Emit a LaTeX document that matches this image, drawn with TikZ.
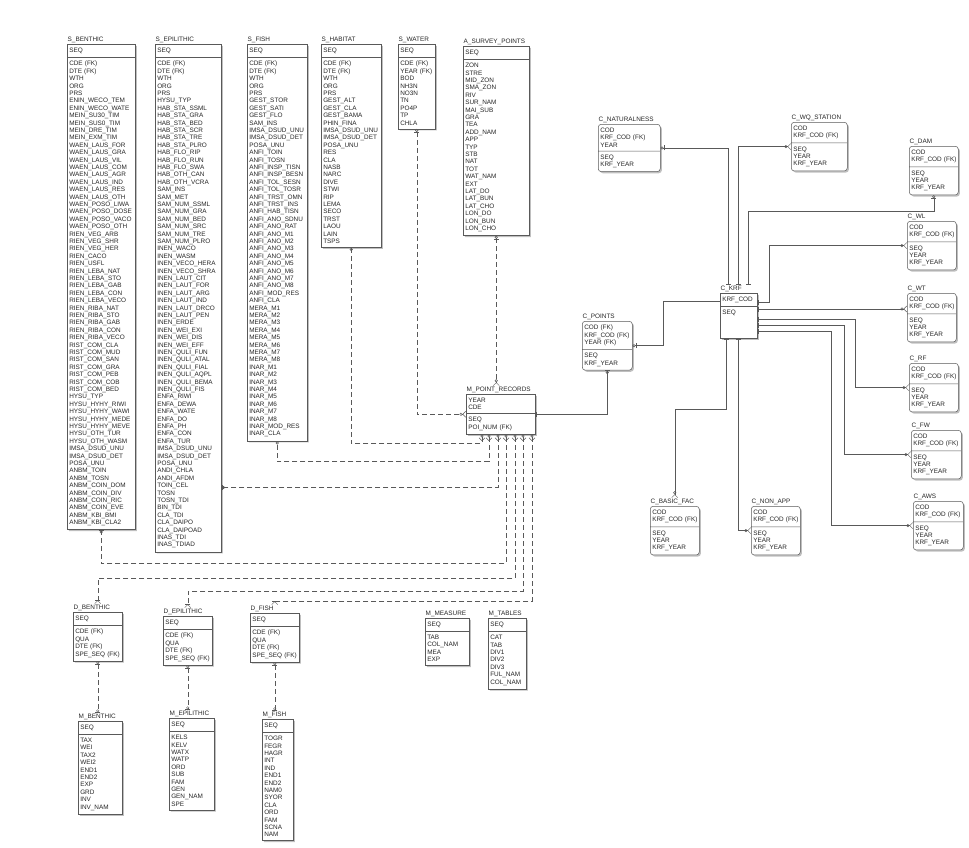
\documentclass[tikz,border=0pt]{standalone}
\usepackage{fontspec}
\setmainfont{Liberation Sans}
\usetikzlibrary{shapes.multipart,shadows,arrows.meta,positioning}

\begin{document}
\begin{tikzpicture}[x=1pt, y=-1pt,
    font=\fontsize{6.4}{7.4}\selectfont,
    every node/.style={text=black!85},
    tbl/.style={rectangle split, rectangle split parts=2, draw=black!65, fill=white,
      line width=0.5pt, anchor=north west, align=left, inner xsep=2pt, inner ysep=3.5pt,
      drop shadow={shadow xshift=1.6pt, shadow yshift=-1.6pt, fill=black!50}},
    rtbl/.style={tbl, rounded corners=3pt},
    ttl/.style={inner sep=0.5pt},
    lnk/.style={draw=black!65, line width=0.5pt},
    rel/.style={lnk, dash pattern=on 5pt off 3pt},
    one/.tip={Bar[width=5pt]},
    zo/.tip={Circle[open,length=3pt] Bar[width=5pt]},
    oz/.tip={Bar[width=5pt] Circle[open,length=3pt]},
    zm/.tip={Circle[open,length=3pt] Straight Barb[reversed,length=3pt,width=6pt]},
    mz/.tip={Straight Barb[reversed,length=3pt,width=6pt] Circle[open,length=3pt]},
    om/.tip={Bar[width=5pt] Straight Barb[reversed,length=3pt,width=6pt]}]
  \useasboundingbox (0,0) rectangle (969,847);

  % survey tables
  \node[tbl, text width=64pt] (sbent) at (67,44) {SEQ
    \nodepart{two}CDE~(FK)\\DTE~(FK)\\WTH\\ORG\\PRS\\ENIN\_WECO\_TEM\\ENIN\_WECO\_WATE\\
    MEIN\_SU30\_TIM\\MEIN\_SUS0\_TIM\\MEIN\_DRE\_TIM\\MEIN\_EXM\_TIM\\WAEN\_LAUS\_FOR\\
    WAEN\_LAUS\_GRA\\WAEN\_LAUS\_VIL\\WAEN\_LAUS\_COM\\WAEN\_LAUS\_AGR\\WAEN\_LAUS\_IND\\
    WAEN\_LAUS\_RES\\WAEN\_LAUS\_OTH\\WAEN\_POSO\_LIWA\\WAEN\_POSO\_DOSE\\WAEN\_POSO\_VACO\\
    WAEN\_POSO\_OTH\\RIEN\_VEG\_ARB\\RIEN\_VEG\_SHR\\RIEN\_VEG\_HER\\RIEN\_CACO\\RIEN\_USFL\\
    RIEN\_LEBA\_NAT\\RIEN\_LEBA\_STO\\RIEN\_LEBA\_GAB\\RIEN\_LEBA\_CON\\RIEN\_LEBA\_VECO\\
    RIEN\_RIBA\_NAT\\RIEN\_RIBA\_STO\\RIEN\_RIBA\_GAB\\RIEN\_RIBA\_CON\\RIEN\_RIBA\_VECO\\
    RIST\_COM\_CLA\\RIST\_COM\_MUD\\RIST\_COM\_SAN\\RIST\_COM\_GRA\\RIST\_COM\_PEB\\
    RIST\_COM\_COB\\RIST\_COM\_BED\\HYSU\_TYP\\HYSU\_HYHY\_RIWI\\HYSU\_HYHY\_WAWI\\
    HYSU\_HYHY\_MEDE\\HYSU\_HYHY\_MEVE\\HYSU\_OTH\_TUR\\HYSU\_OTH\_WASM\\IMSA\_DSUD\_UNU\\
    IMSA\_DSUD\_DET\\POSA\_UNU\\ANBM\_TOIN\\ANBM\_TOSN\\ANBM\_COIN\_DOM\\ANBM\_COIN\_DIV\\
    ANBM\_COIN\_RIC\\ANBM\_COIN\_EVE\\ANBM\_KBI\_BMI\\ANBM\_KBI\_CLA2};
  \node[ttl, above right=1pt and 0pt of sbent.north west] (sbent-t) {S\_BENTHIC};

  \node[tbl, text width=62pt] (sepil) at (155,44) {SEQ
    \nodepart{two}CDE~(FK)\\DTE~(FK)\\WTH\\ORG\\PRS\\HYSU\_TYP\\HAB\_STA\_SSML\\HAB\_STA\_GRA\\
    HAB\_STA\_BED\\HAB\_STA\_SCR\\HAB\_STA\_TRE\\HAB\_STA\_PLRO\\HAB\_FLO\_RIP\\HAB\_FLO\_RUN\\
    HAB\_FLO\_SWA\\HAB\_OTH\_CAN\\HAB\_OTH\_VCRA\\SAM\_INS\\SAM\_MET\\SAM\_NUM\_SSML\\
    SAM\_NUM\_GRA\\SAM\_NUM\_BED\\SAM\_NUM\_SRC\\SAM\_NUM\_TRE\\SAM\_NUM\_PLRO\\INEN\_WACO\\
    INEN\_WASM\\INEN\_VECO\_HERA\\INEN\_VECO\_SHRA\\INEN\_LAUT\_CIT\\INEN\_LAUT\_FOR\\
    INEN\_LAUT\_ARG\\INEN\_LAUT\_IND\\INEN\_LAUT\_DRCO\\INEN\_LAUT\_PEN\\INEN\_ERDE\\
    INEN\_WEI\_EXI\\INEN\_WEI\_DIS\\INEN\_WEI\_EFF\\INEN\_QULI\_FUN\\INEN\_QULI\_ATAL\\
    INEN\_QULI\_FIAL\\INEN\_QULI\_AQPL\\INEN\_QULI\_BEMA\\INEN\_QULI\_FIS\\ENFA\_RIWI\\
    ENFA\_DEWA\\ENFA\_WATE\\ENFA\_DO\\ENFA\_PH\\ENFA\_CON\\ENFA\_TUR\\IMSA\_DSUD\_UNU\\
    IMSA\_DSUD\_DET\\POSA\_UNU\\ANDI\_CHLA\\ANDI\_AFDM\\TOIN\_CEL\\TOSN\\TOSN\_TDI\\BIN\_TDI\\
    CLA\_TDI\\CLA\_DAIPO\\CLA\_DAIPOAD\\INAS\_TDI\\INAS\_TDIAD};
  \node[ttl, above right=1pt and 0pt of sepil.north west] (sepil-t) {S\_EPILITHIC};

  \node[tbl, text width=56pt] (sfish) at (247,44) {SEQ
    \nodepart{two}CDE~(FK)\\DTE~(FK)\\WTH\\ORG\\PRS\\GEST\_STOR\\GEST\_SATI\\GEST\_FLO\\SAM\_INS\\
    IMSA\_DSUD\_UNU\\IMSA\_DSUD\_DET\\POSA\_UNU\\ANFI\_TOIN\\ANFI\_TOSN\\ANFI\_INSP\_TISN\\
    ANFI\_INSP\_BESN\\ANFI\_TOL\_SESN\\ANFI\_TOL\_TOSR\\ANFI\_TRST\_OMN\\ANFI\_TRST\_INS\\
    ANFI\_HAB\_TISN\\ANFI\_ANO\_SDNU\\ANFI\_ANO\_RAT\\ANFI\_ANO\_M1\\ANFI\_ANO\_M2\\ANFI\_ANO\_M3\\
    ANFI\_ANO\_M4\\ANFI\_ANO\_M5\\ANFI\_ANO\_M6\\ANFI\_ANO\_M7\\ANFI\_ANO\_M8\\ANFI\_MOD\_RES\\
    ANFI\_CLA\\MERA\_M1\\MERA\_M2\\MERA\_M3\\MERA\_M4\\MERA\_M5\\MERA\_M6\\MERA\_M7\\MERA\_M8\\
    INAR\_M1\\INAR\_M2\\INAR\_M3\\INAR\_M4\\INAR\_M5\\INAR\_M6\\INAR\_M7\\INAR\_M8\\
    INAR\_MOD\_RES\\INAR\_CLA};
  \node[ttl, above right=1pt and 0pt of sfish.north west] (sfish-t) {S\_FISH};

  \node[tbl, text width=56pt] (shab) at (321,44) {SEQ
    \nodepart{two}CDE~(FK)\\DTE~(FK)\\WTH\\ORG\\PRS\\GEST\_ALT\\GEST\_CLA\\GEST\_BAMA\\PHIN\_FINA\\
    IMSA\_DSUD\_UNU\\IMSA\_DSUD\_DET\\POSA\_UNU\\RES\\CLA\\NASB\\NARC\\DIVE\\STWI\\RIP\\LEMA\\
    SECO\\TRST\\LAOU\\LAIN\\TSPS};
  \node[ttl, above right=1pt and 0pt of shab.north west] (shab-t) {S\_HABITAT};

  \node[tbl, text width=33pt] (swat) at (398,44) {SEQ
    \nodepart{two}CDE~(FK)\\YEAR~(FK)\\BOD\\NH3N\\NO3N\\TN\\PO4P\\TP\\CHLA};
  \node[ttl, above right=1pt and 0pt of swat.north west] (swat-t) {S\_WATER};

  \node[tbl, text width=62pt] (asp) at (463,46) {SEQ
    \nodepart{two}ZON\\STRE\\MID\_ZON\\SMA\_ZON\\RIV\\SUR\_NAM\\MAI\_SUB\\GRA\\TEA\\ADD\_NAM\\
    APP\\TYP\\STB\\NAT\\TOT\\WAT\_NAM\\EXT\\LAT\_DO\\LAT\_BUN\\LAT\_CHO\\LON\_DO\\LON\_BUN\\LON\_CHO};
  \node[ttl, above right=1pt and 0pt of asp.north west] (asp-t) {A\_SURVEY\_POINTS};

  \node[tbl, text width=65pt] (mpr) at (466,394) {YEAR\\CDE
    \nodepart{two}SEQ\\POI\_NUM~(FK)};
  \node[ttl, above right=1pt and 0pt of mpr.north west] (mpr-t) {M\_POINT\_RECORDS};

  % code tables
  \node[tbl, text width=33pt] (ckrf) at (720,293) {KRF\_COD
    \nodepart{two}SEQ\\[12.5pt]\mbox{}};
  \node[ttl, above right=1pt and 0pt of ckrf.north west] (ckrf-t) {C\_KRF};

  \node[rtbl, text width=58pt] (cnat) at (598,124) {COD\\KRF\_COD~(FK)\\YEAR
    \nodepart{two}SEQ\\KRF\_YEAR};
  \node[ttl, above right=1pt and 0pt of cnat.north west] (cnat-t) {C\_NATURALNESS};

  \node[rtbl, text width=52pt] (cwq) at (791,122) {COD\\KRF\_COD~(FK)
    \nodepart{two}SEQ\\YEAR\\KRF\_YEAR};
  \node[ttl, above right=1pt and 0pt of cwq.north west] (cwq-t) {C\_WQ\_STATION};

  \node[rtbl, text width=45pt] (cdam) at (909,146) {COD\\KRF\_COD~(FK)
    \nodepart{two}SEQ\\YEAR\\KRF\_YEAR};
  \node[ttl, above right=1pt and 0pt of cdam.north west] (cdam-t) {C\_DAM};

  \node[rtbl, text width=45pt] (cwl) at (907,221) {COD\\KRF\_COD~(FK)
    \nodepart{two}SEQ\\YEAR\\KRF\_YEAR};
  \node[ttl, above right=1pt and 0pt of cwl.north west] (cwl-t) {C\_WL};

  \node[rtbl, text width=45pt] (cwt) at (907,293) {COD\\KRF\_COD~(FK)
    \nodepart{two}SEQ\\YEAR\\KRF\_YEAR};
  \node[ttl, above right=1pt and 0pt of cwt.north west] (cwt-t) {C\_WT};

  \node[rtbl, text width=45pt] (crf) at (909,363) {COD\\KRF\_COD~(FK)
    \nodepart{two}SEQ\\YEAR\\KRF\_YEAR};
  \node[ttl, above right=1pt and 0pt of crf.north west] (crf-t) {C\_RF};

  \node[rtbl, text width=46pt] (cfw) at (911,430) {COD\\KRF\_COD~(FK)
    \nodepart{two}SEQ\\YEAR\\KRF\_YEAR};
  \node[ttl, above right=1pt and 0pt of cfw.north west] (cfw-t) {C\_FW};

  \node[rtbl, text width=46pt] (caws) at (913,501) {COD\\KRF\_COD~(FK)
    \nodepart{two}SEQ\\YEAR\\KRF\_YEAR};
  \node[ttl, above right=1pt and 0pt of caws.north west] (caws-t) {C\_AWS};

  \node[rtbl, text width=45pt] (cnon) at (751,506) {COD\\KRF\_COD~(FK)
    \nodepart{two}SEQ\\YEAR\\KRF\_YEAR};
  \node[ttl, above right=1pt and 0pt of cnon.north west] (cnon-t) {C\_NON\_APP};

  \node[rtbl, text width=45pt] (cbas) at (650,506) {COD\\KRF\_COD~(FK)
    \nodepart{two}SEQ\\YEAR\\KRF\_YEAR};
  \node[ttl, above right=1pt and 0pt of cbas.north west] (cbas-t) {C\_BASIC\_FAC};

  \node[rtbl, text width=46pt] (cpts) at (582,321) {COD~(FK)\\KRF\_COD~(FK)\\YEAR~(FK)
    \nodepart{two}SEQ\\KRF\_YEAR};
  \node[ttl, above right=1pt and 0pt of cpts.north west] (cpts-t) {C\_POINTS};

  % detail and master tables
  \node[tbl, text width=45pt] (dbent) at (73,612) {SEQ
    \nodepart{two}CDE~(FK)\\QUA\\DTE~(FK)\\SPE\_SEQ~(FK)};
  \node[ttl, above right=1pt and 0pt of dbent.north west] (dbent-t) {D\_BENTHIC};

  \node[tbl, text width=45pt] (depil) at (163,616) {SEQ
    \nodepart{two}CDE~(FK)\\QUA\\DTE~(FK)\\SPE\_SEQ~(FK)};
  \node[ttl, above right=1pt and 0pt of depil.north west] (depil-t) {D\_EPILITHIC};

  \node[tbl, text width=45pt] (dfish) at (250,613) {SEQ
    \nodepart{two}CDE~(FK)\\QUA\\DTE~(FK)\\SPE\_SEQ~(FK)};
  \node[ttl, above right=1pt and 0pt of dfish.north west] (dfish-t) {D\_FISH};

  \node[tbl, text width=40pt] (mbent) at (78,721) {SEQ
    \nodepart{two}TAX\\WEI\\TAX2\\WEI2\\END1\\END2\\EXP\\GRD\\INV\\INV\_NAM};
  \node[ttl, above right=1pt and 0pt of mbent.north west] (mbent-t) {M\_BENTHIC};

  \node[tbl, text width=41pt] (mepil) at (169,718) {SEQ
    \nodepart{two}KELS\\KELV\\WATX\\WATP\\ORD\\SUB\\FAM\\GEN\\GEN\_NAM\\SPE};
  \node[ttl, above right=1pt and 0pt of mepil.north west] (mepil-t) {M\_EPILITHIC};

  \node[tbl, text width=27pt] (mfish) at (262,719) {SEQ
    \nodepart{two}TOGR\\FEGR\\HAGR\\INT\\IND\\END1\\END2\\NAM0\\SYOR\\CLA\\ORD\\FAM\\SCNA\\NAM};
  \node[ttl, above right=1pt and 0pt of mfish.north west] (mfish-t) {M\_FISH};

  \node[tbl, text width=40pt] (mmea) at (425,618) {SEQ
    \nodepart{two}TAB\\COL\_NAM\\MEA\\EXP};
  \node[ttl, above right=1pt and 0pt of mmea.north west] (mmea-t) {M\_MEASURE};

  \node[tbl, text width=34pt] (mtab) at (488,618) {SEQ
    \nodepart{two}CAT\\TAB\\DIV1\\DIV2\\DIV3\\FUL\_NAM\\COL\_NAM};
  \node[ttl, above right=1pt and 0pt of mtab.north west] (mtab-t) {M\_TABLES};

  % C_KRF links
  \draw[lnk, oz-one] (cnat.east) -| ([xshift=8pt]ckrf.north west |- ckrf-t.north);
  \draw[lnk, one-zm] ([xshift=18pt]ckrf.north west |- ckrf-t.north) |- (cwq.west);
  \draw[lnk, oz-one] (cdam.south) -- ++(0,16) -| ([xshift=28pt]ckrf.north west |- ckrf-t.north);
  \draw[lnk, one-zm] ([yshift=-9pt]ckrf.north east) -- ++(12,0) |- (cwl.west);
  \draw[lnk, one-zm] ([yshift=-16pt]ckrf.north east) coordinate (k1) -- (k1 -| cwt.west);
  \draw[lnk, one-zm] ([yshift=-26pt]ckrf.north east) -- ++(98,0) |- (crf.west);
  \draw[lnk, one-zm] ([yshift=-32pt]ckrf.north east) -- ++(87,0) |- (cfw.west);
  \draw[lnk, one-zm] ([yshift=-38pt]ckrf.north east) -- ++(74,0) |- (caws.west);
  \draw[lnk, oz-one] (cpts.east) -- ++(31,0) |- ([yshift=-8pt]ckrf.north west);
  \draw[lnk, one-zm] ([xshift=6pt]ckrf.south west) -- ++(0,71) -| (cbas.north |- cbas-t.north);
  \draw[lnk, one-zm] ([xshift=18pt]ckrf.south west) |- (cnon.west);
  \draw[lnk, one-zo] (mpr.east) -| (cpts.south);

  % point record links
  \draw[rel, oz-zm] (asp.south) -- (asp.south |- mpr-t.north);
  \draw[rel, oz-zm] (swat.south) |- (mpr.west);
  \draw[rel, mz-zo] ([xshift=16pt]mpr.south west) -- ++(0,9) -| (shab.south);
  \draw[rel, mz-zo] ([xshift=23pt]mpr.south west) -- ++(0,27) -| (sfish.south);
  \draw[rel, mz-zo] ([xshift=32pt]mpr.south west) -- ++(0,53) coordinate (e1) -- (e1 -| sepil.east);
  \draw[rel, mz-zo] ([xshift=40pt]mpr.south west) -- ++(0,129) -| (sbent.south);
  \draw[rel, mz-om] ([xshift=49pt]mpr.south west) -- ++(0,144) -| (dbent.north |- dbent-t.north);
  \draw[rel, mz-om] ([xshift=57pt]mpr.south west) -- ++(0,157) -| (depil.north |- depil-t.north);
  \draw[rel, mz-om] ([xshift=66pt]mpr.south west) -- ++(0,167) -| (dfish.north |- dfish-t.north);

  % species links
  \draw[rel, oz-zo] (dbent.south) -- (dbent.south |- mbent-t.north);
  \draw[rel, oz-zo] (depil.south) -- (depil.south |- mepil-t.north);
  \draw[rel, oz-zo] (dfish.south) -- (dfish.south |- mfish-t.north);
\end{tikzpicture}
\end{document}
